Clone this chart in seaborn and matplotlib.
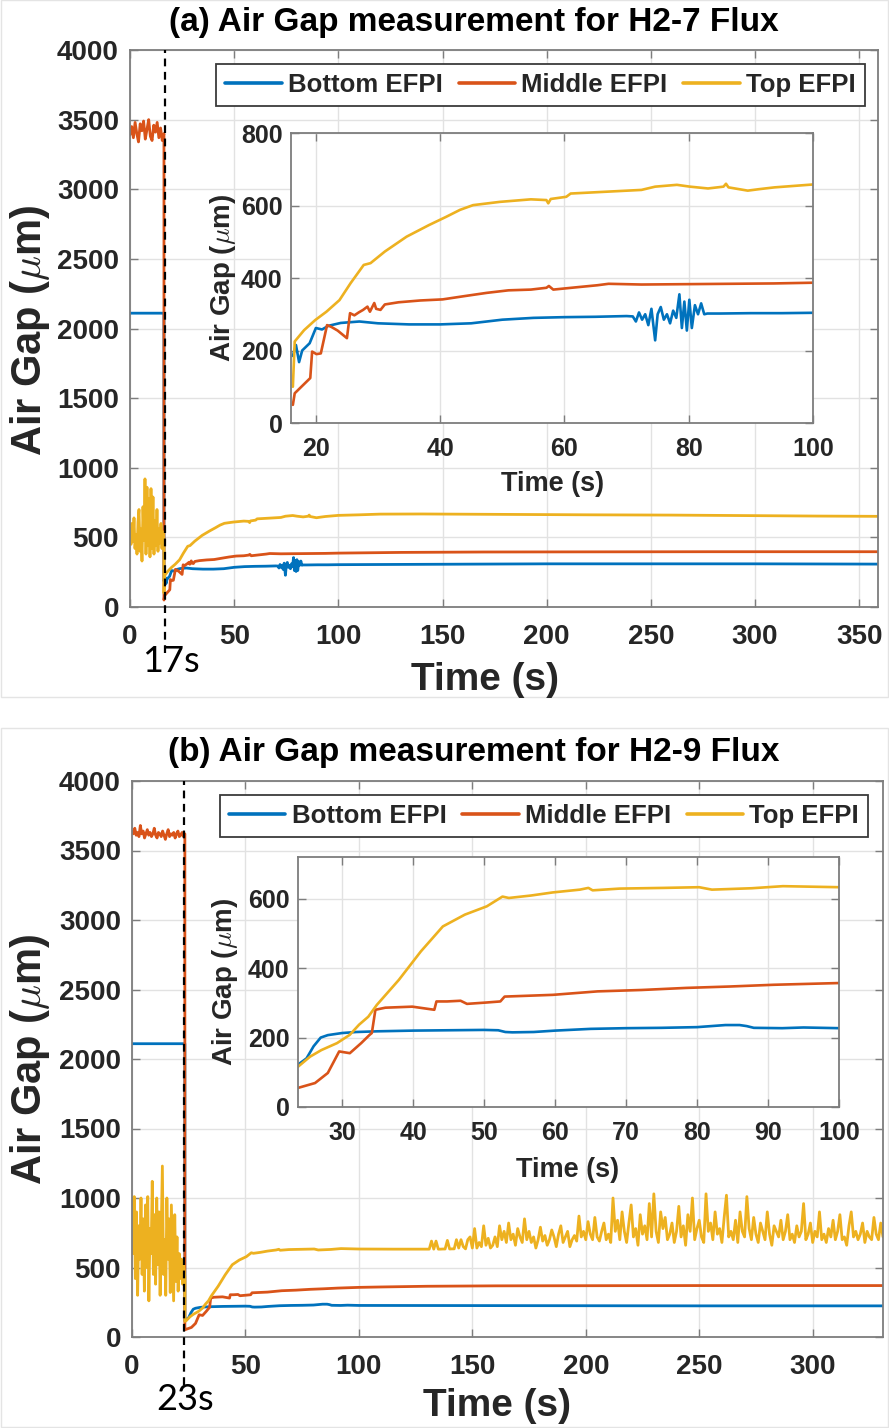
import numpy as np
import pandas as pd
import matplotlib
matplotlib.use("Agg")
import matplotlib.pyplot as plt
import seaborn as sns
from matplotlib.lines import Line2D
from matplotlib.patches import Rectangle

# ---------------------------------------------------------------- data
SERIES = ["Bottom EFPI", "Middle EFPI", "Top EFPI"]
COLORS = ["#0072BD", "#D95319", "#EDB120"]

# ---- (a) H2-7 flux, event at 17 s
event_a = 17
drop_a = 16.3
bottom_a_pre_t = [0, 16.3]
bottom_a_pre_v = [2110, 2110]
middle_a_pre_v = [3390, 3450, 3370, 3480, 3400, 3340, 3470, 3420, 3490, 3360,
                  3430, 3500, 3380, 3350, 3460, 3410, 3480, 3370, 3440, 3350,
                  3400]
top_a_pre_v = [560, 450, 600, 470, 640, 420, 520, 380, 610, 700,
               400, 560, 330, 720, 480, 920, 380, 860, 440, 780,
               360, 850, 420, 790, 380, 620, 440, 700, 400, 560,
               460, 600, 420, 540, 480]

bottom_a_t = [16.3, 16.8, 17.3, 17.8, 19, 20, 21, 22, 24, 27,
              30, 35, 40, 45, 50, 55, 60, 65, 70, 71.0,
              71.5, 72.0, 72.5, 73.0, 73.5, 74.0, 74.6, 75.0, 75.5, 76.0,
              76.5, 77.0, 77.5, 78.0, 78.5, 78.9, 79.3, 79.7, 80.1, 80.5,
              81.0, 81.5, 82.0, 82.5, 83.0, 85, 90, 95, 100, 150,
              200, 250, 300, 360]
bottom_a_v = [185, 215, 168, 200, 220, 262, 258, 268, 276, 280,
              275, 272, 272, 275, 285, 290, 292, 293, 295, 294,
              280, 305, 285, 300, 270, 315, 228, 300, 320, 285,
              300, 275, 310, 290, 355, 262, 335, 255, 340, 262,
              325, 300, 330, 300, 302, 302, 303, 303, 304, 307,
              310, 310, 310, 308]
middle_a_t = [16.3, 16.6, 19.1, 19.4, 20.1, 20.8, 21.8, 22.5, 23.5, 25.0,
              25.5, 26.2, 26.9, 27.6, 28.3, 28.7, 29.4, 29.7, 30.4, 31.1,
              33.3, 36.8, 40.4, 43.9, 47.5, 51, 54.6, 57.1, 57.5, 58.2,
              61.7, 65.3, 67.1, 72.4, 79.5, 86.6, 93.7, 100, 130, 170,
              220, 280, 360]
middle_a_v = [50, 82, 124, 197, 190, 192, 270, 265, 255, 234,
              303, 297, 305, 312, 321, 307, 331, 315, 312, 327,
              333, 338, 341, 350, 359, 366, 368, 373, 378, 368,
              374, 380, 384, 382, 383, 384, 385, 387, 392, 395,
              396, 397, 397]
top_a_t = [16.3, 16.6, 18.1, 19.9, 21.7, 23.8, 25.6, 27.7, 28.8, 31.1,
           34.6, 38.2, 41, 43.2, 45.3, 49.6, 54.6, 57.1, 57.4, 57.8,
           60.3, 61, 66.7, 72.4, 74.6, 78.1, 80.2, 83.1, 85.6, 86,
           86.4, 89.5, 91.3, 93.8, 100, 110, 120, 140, 180, 220,
           260, 300, 330, 360]
top_a_v = [100, 225, 256, 284, 307, 339, 386, 436, 441, 473,
           514, 546, 569, 588, 601, 610, 617, 615, 606, 618,
           624, 633, 638, 643, 652, 657, 652, 647, 652, 660,
           650, 641, 645, 650, 658, 662, 667, 668, 665, 662,
           660, 656, 653, 651]

# ---- (b) H2-9 flux, event at 23 s
event_b = 23
drop_b = 23.3
bottom_b_pre_t = [0, 23.3]
bottom_b_pre_v = [2110, 2110]
middle_b_pre_v = [3640, 3620, 3660, 3610, 3630, 3600, 3680, 3620, 3640, 3590,
                  3620, 3650, 3610, 3630, 3600, 3620, 3660, 3610, 3590, 3630,
                  3620, 3600, 3640, 3610, 3580, 3620, 3650, 3600, 3620, 3610,
                  3630, 3590, 3620, 3640, 3600, 3610, 3630, 3600, 3620]
top_b_pre_v = [1000, 600, 1010, 420, 900, 300, 800, 560, 1000, 450,
               850, 330, 950, 500, 1010, 260, 780, 600, 1120, 450,
               880, 380, 1000, 520, 900, 300, 760, 1230, 450, 700,
               300, 1000, 560, 850, 320, 950, 600, 260, 880, 400,
               720, 330, 600, 420, 560, 380, 520, 430]

bottom_b_t = [23.3, 24, 25, 26, 27, 28, 29, 30, 32, 35,
              40, 45, 50, 52, 53, 54, 57, 60, 65, 70,
              75, 80, 82, 84, 86, 87, 88, 92, 95, 100,
              150, 200, 250, 300, 331]
bottom_b_v = [115, 125, 140, 175, 200, 207, 210, 213, 216, 218,
              220, 221, 222, 221, 216, 215, 216, 220, 225, 227,
              228, 230, 233, 236, 236, 233, 228, 227, 229, 227,
              226, 225, 224, 224, 224]
middle_b_t = [23.3, 23.8, 26.2, 28.0, 29.6, 31.1, 32.7, 33.9, 34.2, 34.7,
              36.1, 39.9, 43.0, 43.3, 44.8, 46.7, 47.6, 50.4, 52.3, 52.9,
              59.7, 66, 72.2, 78.5, 84.6, 90.8, 100, 110, 130, 160,
              200, 250, 331]
middle_b_v = [52, 55, 69, 98, 160, 155, 184, 208, 213, 280,
              286, 289, 280, 304, 304, 306, 297, 301, 304, 318,
              323, 333, 337, 343, 347, 352, 357, 360, 365, 368,
              369, 370, 370]
top_b_t = [23.3, 23.8, 25.5, 27.1, 29.3, 31.1, 32.4, 33.7, 34.9, 38.0,
           41.1, 44.2, 47.3, 50.4, 52.6, 53.5, 56.6, 59.7, 63.5, 64.7,
           65.3, 69.1, 75.3, 80.3, 82.1, 87.7, 92.1, 100, 115, 131]
top_b_v = [112, 116, 145, 164, 184, 208, 237, 260, 294, 366,
           448, 520, 554, 578, 606, 602, 609, 618, 626, 631,
           624, 629, 631, 633, 626, 630, 636, 633, 632, 632]
# noisy stretch of the top sensor, 132 s to 331 s
top_b_late_v = [690, 632, 690, 632, 632, 633, 633, 695, 633, 634,
                634, 700, 640, 700, 650, 634, 700, 720, 640, 780,
                640, 680, 650, 800, 660, 710, 640, 660,
                720, 650, 800, 700, 760, 680, 820, 700, 740, 660,
                780, 720, 680, 850, 700, 760, 680, 720, 640, 700,
                790, 690, 730, 660, 700, 770, 720, 650, 740, 800,
                680, 720, 760, 650, 700, 730, 690, 870, 720, 760,
                700, 830, 740, 700, 860, 720, 690, 760, 820, 700,
                740, 680,
                1000, 760, 840, 700, 900, 760, 680, 820, 950, 720,
                780, 660, 880, 740, 800, 700, 960, 720, 1030, 760,
                680, 900, 780, 860, 700, 740, 820, 680, 760, 940,
                720, 800, 660, 880, 760, 1000, 700, 780, 840, 720,
                680, 1030, 760, 820, 700, 900, 740, 780, 680, 860,
                1020, 720, 760, 700, 840, 680, 900, 760, 720, 1010,
                780, 700, 860, 740, 680, 820, 760, 700, 900, 740,
                660, 800, 760, 720, 840, 700, 760, 880, 700, 740,
                680, 800, 720, 760, 960, 700, 740, 820, 680, 760,
                720, 900, 700, 740, 680, 780, 720, 840, 700, 760,
                880, 700, 720, 660, 800, 900, 720, 760, 700, 740,
                820, 680, 760, 720, 700, 860, 740, 700, 820, 720]

# ---------------------------------------------------------------- style
W, H, DPI = 889, 1428, 100
AX = "#7d7d7d"
TXT = "#262626"
GRID = "#e2e2e2"

sns.set_theme(style="white")
plt.rcParams["font.family"] = ["Liberation Sans", "DejaVu Sans"]
plt.rcParams["font.weight"] = "bold"
plt.rcParams["mathtext.fontset"] = "cm"

fig = plt.figure(figsize=(W / DPI, H / DPI), dpi=DPI)


def rect(l, t, r, b):
    return [l / W, 1 - b / H, (r - l) / W, (b - t) / H]


def fx(x):
    return x / W


def fy(y):
    return 1 - y / H


def line(ax, t, v, color, lw):
    df = pd.DataFrame({"t": t, "v": v})
    sns.lineplot(data=df, x="t", y="v", ax=ax, color=color, lw=lw,
                 estimator=None, sort=False, legend=False)


def style(ax, xlim, ylim, xticks, yticks, size, xpad, ypad):
    ax.set_xlim(xlim)
    ax.set_ylim(ylim)
    ax.set_xticks(xticks)
    ax.set_yticks(yticks)
    ax.set_xlabel("")
    ax.set_ylabel("")
    ax.grid(True, color=GRID, lw=1.0)
    ax.set_axisbelow(True)
    for s in ax.spines.values():
        s.set_visible(True)
        s.set_color(AX)
        s.set_linewidth(1.3)
    ax.tick_params(direction="in", length=6, width=1.0, color=AX,
                   top=True, right=True, bottom=True, left=True,
                   labelsize=size, labelcolor=TXT)
    ax.tick_params(axis="x", pad=xpad)
    ax.tick_params(axis="y", pad=ypad)
    for lab in ax.get_xticklabels() + ax.get_yticklabels():
        lab.set_fontweight("bold")


def panel(main_box, inset_box, legend_y, xmax, xticks, event, drop,
          pre, post, inset_xlim, inset_ylim, inset_xticks, inset_yticks,
          dash_bottom, title, title_y, xlab_xy, ylab_y, event_xy,
          inset_xlab_xy, inset_ylab_xy, frame):
    # faint frame around the panel
    fig.patches.append(Rectangle((fx(frame[0]), fy(frame[3])),
                                 (frame[2] - frame[0]) / W,
                                 (frame[3] - frame[1]) / H,
                                 transform=fig.transFigure, fill=False,
                                 ec="#e4e4e4", lw=1.0, zorder=0))
    ax = fig.add_axes(rect(*main_box))
    for (pt, pv), (t, v), c in zip(pre, post, COLORS):
        line(ax, list(pt) + list(t), list(pv) + list(v), c, 2.0)
    style(ax, (0, xmax), (0, 4000), xticks, np.arange(0, 4001, 500),
          20, 12, 8)
    frac = (dash_bottom - main_box[3]) / (main_box[3] - main_box[1])
    ax.axvline(event, ymin=-frac, ymax=1, color="black", ls=(0, (3.5, 2.5)),
               lw=1.6, clip_on=False, zorder=6)
    handles = [Line2D([], [], color=c, lw=2.6) for c in COLORS]
    leg = ax.legend(handles, SERIES, ncol=3, loc="center",
                    bbox_to_anchor=(fx((main_box[0] + 87 + main_box[2] - 14) / 2), fy(legend_y)),
                    bbox_transform=fig.transFigure, fontsize=18.5,
                    handlelength=2.2, handletextpad=0.25, columnspacing=0.6,
                    borderpad=0.35, frameon=True, fancybox=False,
                    framealpha=1, edgecolor="#3a3a3a")
    leg.get_frame().set_linewidth(1.3)
    for tx in leg.get_texts():
        tx.set_fontweight("bold")
        tx.set_color(TXT)

    ins = fig.add_axes(rect(*inset_box))
    ins.set_facecolor("white")
    for (t, v), c in zip(post, COLORS):
        line(ins, t, v, c, 1.9)
    style(ins, inset_xlim, inset_ylim, inset_xticks, inset_yticks,
          18, 10, 6)

    fig.text(fx(474), fy(title_y), title, ha="center", va="center",
             fontsize=24, fontweight="bold", color="black")
    fig.text(fx(xlab_xy[0]), fy(xlab_xy[1]), "Time (s)", ha="center",
             va="center", fontsize=28, fontweight="bold", color=TXT)
    fig.text(fx(30), fy(ylab_y), r"Air Gap ($\mu$m)", ha="center",
             va="center", rotation=90, fontsize=30, fontweight="bold",
             color=TXT)
    fig.text(fx(inset_xlab_xy[0]), fy(inset_xlab_xy[1]), "Time (s)",
             ha="center", va="center", fontsize=19.5, fontweight="bold",
             color=TXT)
    fig.text(fx(inset_ylab_xy[0]), fy(inset_ylab_xy[1]), r"Air Gap ($\mu$m)",
             ha="center", va="center", rotation=90, fontsize=20,
             fontweight="bold", color=TXT)
    fig.text(fx(event_xy[0]), fy(event_xy[1]), f"{event}s", ha="center",
             va="center", fontsize=26, family=["Lato", "DejaVu Sans"],
             fontweight="normal", color="black")


pre_a = [(bottom_a_pre_t, bottom_a_pre_v),
         (np.linspace(0, drop_a, len(middle_a_pre_v)), middle_a_pre_v),
         (np.linspace(0, drop_a, len(top_a_pre_v)), top_a_pre_v)]
post_a = [(bottom_a_t, bottom_a_v), (middle_a_t, middle_a_v), (top_a_t, top_a_v)]

pre_b = [(bottom_b_pre_t, bottom_b_pre_v),
         (np.linspace(0, drop_b, len(middle_b_pre_v)), middle_b_pre_v),
         (np.linspace(0, drop_b, len(top_b_pre_v)), top_b_pre_v)]
top_b_all_t = list(top_b_t) + list(np.linspace(132, 331, len(top_b_late_v)))
top_b_all_v = list(top_b_v) + list(top_b_late_v)
post_b = [(bottom_b_t, bottom_b_v), (middle_b_t, middle_b_v),
          (top_b_all_t, top_b_all_v)]

panel(main_box=(130, 50, 878, 607), inset_box=(291, 133, 813, 423),
      legend_y=85, xmax=359, xticks=np.arange(0, 351, 50), event=event_a,
      drop=drop_a, pre=pre_a, post=post_a, inset_xlim=(16, 100),
      inset_ylim=(0, 800), inset_xticks=[20, 40, 60, 80, 100],
      inset_yticks=np.arange(0, 801, 200), dash_bottom=653,
      title="(a) Air Gap measurement for H2-7 Flux", title_y=22,
      xlab_xy=(485, 680), ylab_y=330, event_xy=(171, 662),
      inset_xlab_xy=(553, 484), inset_ylab_xy=(223, 278),
      frame=(1, 0, 888, 697))

panel(main_box=(132, 781, 883, 1337), inset_box=(298, 857, 839, 1107),
      legend_y=816, xmax=331, xticks=np.arange(0, 301, 50), event=event_b,
      drop=drop_b, pre=pre_b, post=post_b, inset_xlim=(23.8, 100),
      inset_ylim=(0, 720), inset_xticks=np.arange(30, 101, 10),
      inset_yticks=[0, 200, 400, 600], dash_bottom=1385,
      title="(b) Air Gap measurement for H2-9 Flux", title_y=752,
      xlab_xy=(497, 1406), ylab_y=1059, event_xy=(185, 1400),
      inset_xlab_xy=(568, 1170), inset_ylab_xy=(225, 982),
      frame=(1, 728, 888, 1427))

fig.savefig("out.png", dpi=DPI, facecolor="white")
